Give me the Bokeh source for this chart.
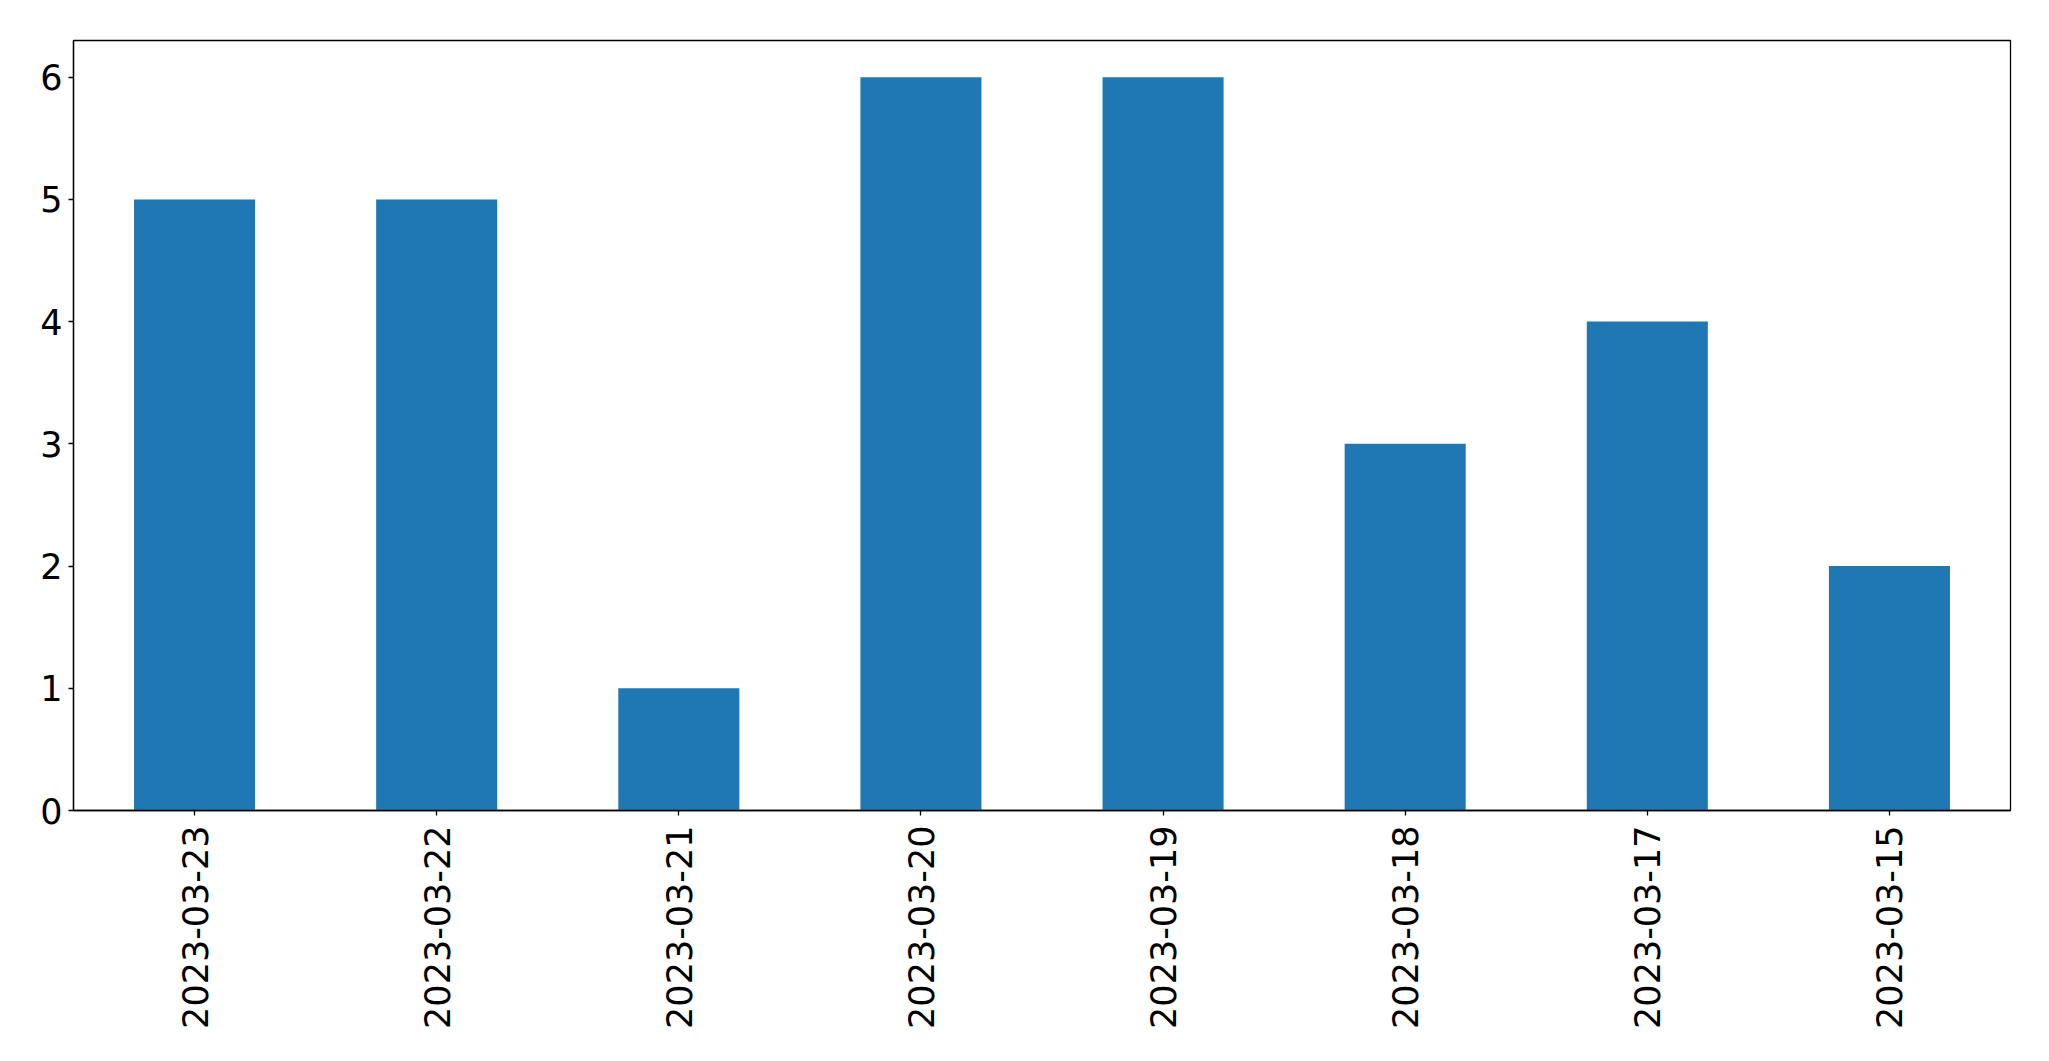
import math
from bokeh.plotting import figure
from bokeh.models import Range1d, FixedTicker
from bokeh.embed import file_html
from bokeh.resources import INLINE

dates = ["2023-03-23", "2023-03-22", "2023-03-21", "2023-03-20",
         "2023-03-19", "2023-03-18", "2023-03-17", "2023-03-15"]
counts = [5, 5, 1, 6, 6, 3, 4, 2]
y_ticks = [0, 1, 2, 3, 4, 5, 6]

p = figure(x_range=dates, y_range=Range1d(0, 6.3),
           frame_width=1937, frame_height=770,
           min_border_left=73, min_border_top=40, min_border_right=30,
           min_border_bottom=230,
           output_backend="svg", toolbar_location=None)

p.vbar(x=dates, top=counts, width=0.5, color="#1f77b4", line_color=None)

p.xgrid.visible = False
p.ygrid.visible = False
p.outline_line_color = "black"
p.outline_line_width = 1.3
p.outline_line_alpha = 1.0

for ax in (p.xaxis, p.yaxis):
    ax.axis_line_color = "black"
    ax.axis_line_width = 1.3
    ax.major_tick_line_color = "black"
    ax.major_tick_line_width = 1.3
    ax.major_tick_out = 5
    ax.major_tick_in = 0
    ax.minor_tick_line_color = None
    ax.major_label_text_font = "DejaVu Sans"
    ax.major_label_text_font_size = "35px"
    ax.major_label_text_color = "black"

p.yaxis.ticker = FixedTicker(ticks=y_ticks)
p.yaxis.major_label_standoff = 6
p.xaxis.major_label_orientation = math.pi / 2
p.xaxis.major_label_standoff = 10

open("out.html", "w").write(file_html(p, INLINE))
